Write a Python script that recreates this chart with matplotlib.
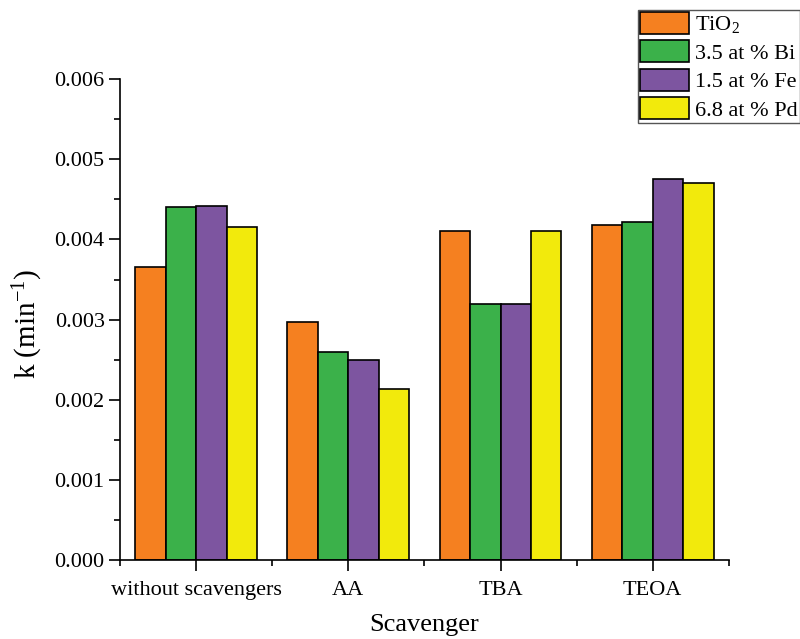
import matplotlib.pyplot as plt
import numpy as np
from matplotlib.ticker import MultipleLocator, FixedLocator

plt.rcParams['font.family'] = 'Liberation Serif'
plt.rcParams['mathtext.fontset'] = 'custom'
plt.rcParams['mathtext.rm'] = 'Liberation Serif'
plt.rcParams['mathtext.it'] = 'Liberation Serif:italic'

# Rate constants per scavenger
scavengers = ['without scavengers', 'AA', 'TBA', 'TEOA']
series = [r'TiO$_2$', '3.5 at % Bi', '1.5 at % Fe', '6.8 at % Pd']
tio2 = [0.00366, 0.00297, 0.00410, 0.00418]
bi = [0.00440, 0.00260, 0.00320, 0.00422]
fe = [0.00442, 0.00249, 0.00320, 0.00476]
pd_ = [0.00415, 0.00213, 0.00410, 0.00470]
colors = ['#F58020', '#3BB14A', '#7D55A0', '#F2EA0C']

fig = plt.figure(figsize=(8, 6.39), dpi=100)
ax = fig.add_axes([0.15, 0.1236, 0.761, 0.7524])

x = np.arange(len(scavengers))
w = 0.2
for i, (vals, lab, col) in enumerate(zip([tio2, bi, fe, pd_], series, colors)):
    ax.bar(x + (i - 1.5) * w, vals, w, color=col, edgecolor='black',
           linewidth=1.2, label=lab)

ax.set_xlim(-0.5, 3.5)
ax.set_ylim(0, 0.006)
ax.set_xticks(x)
ax.set_xticklabels(scavengers, fontsize=16)
ax.xaxis.set_minor_locator(FixedLocator([-0.5, 0.5, 1.5, 2.5, 3.5]))
ax.yaxis.set_major_locator(MultipleLocator(0.001))
ax.yaxis.set_minor_locator(MultipleLocator(0.0005))
ax.yaxis.set_major_formatter(plt.FuncFormatter(lambda v, p: f'{v:.3f}'))
ax.tick_params(axis='y', labelsize=16, pad=3)
ax.tick_params(axis='x', pad=7)
ax.tick_params(which='major', direction='out', length=8, width=1.2)
ax.tick_params(which='minor', direction='out', length=4, width=1.2)

for s in ['top', 'right']:
    ax.spines[s].set_visible(False)
for s in ['left', 'bottom']:
    ax.spines[s].set_linewidth(1.2)

ax.set_xlabel('Scavenger', fontsize=19, labelpad=10)
ax.set_ylabel(r'k (min$^{-1}$)', fontsize=21, labelpad=8)
ax.yaxis.set_label_coords(-0.123, 0.49)

leg = fig.legend(loc='upper left', bbox_to_anchor=(0.797, 0.985), fontsize=16,
                 handlelength=2.2, handleheight=1.15, handletextpad=0.3,
                 labelspacing=0.22, borderpad=0.1, borderaxespad=0,
                 fancybox=False, edgecolor='#555555', framealpha=1)
leg.get_frame().set_linewidth(1.0)

fig.savefig('out.png', dpi=100)
